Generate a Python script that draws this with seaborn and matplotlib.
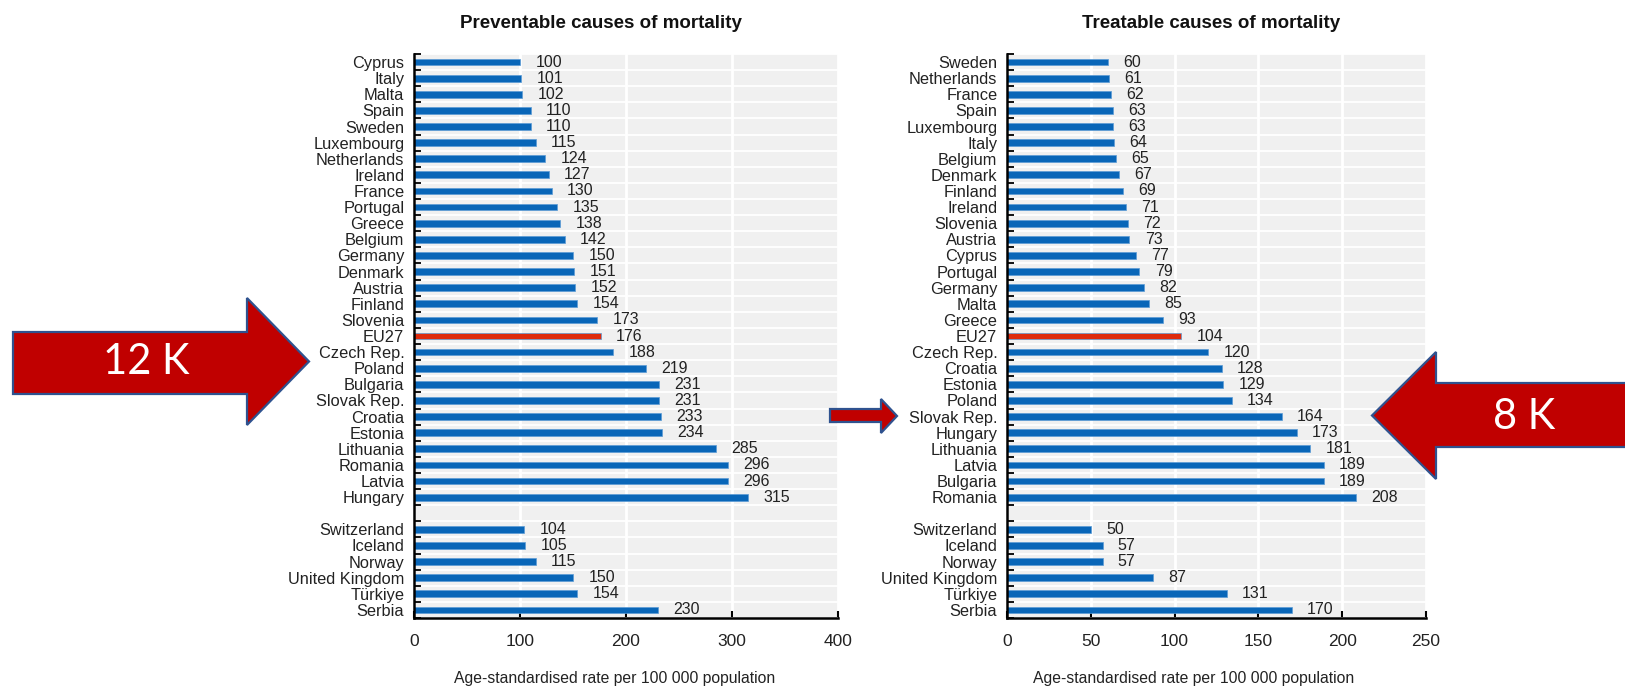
import numpy as np
import pandas as pd
import matplotlib
matplotlib.use("Agg")
import matplotlib.pyplot as plt
import seaborn as sns
from matplotlib.patches import Polygon
from matplotlib.ticker import FixedLocator

# preventable causes
prev_eu = ["Cyprus", "Italy", "Malta", "Spain", "Sweden", "Luxembourg", "Netherlands",
           "Ireland", "France", "Portugal", "Greece", "Belgium", "Germany", "Denmark",
           "Austria", "Finland", "Slovenia", "EU27", "Czech Rep.", "Poland", "Bulgaria",
           "Slovak Rep.", "Croatia", "Estonia", "Lithuania", "Romania", "Latvia", "Hungary"]
prev_eu_val = [100, 101, 102, 110, 110, 115, 124, 127, 130, 135, 138, 142, 150, 151,
               152, 154, 173, 176, 188, 219, 231, 231, 233, 234, 285, 296, 296, 315]
prev_other = ["Switzerland", "Iceland", "Norway", "United Kingdom", "Türkiye", "Serbia"]
prev_other_val = [104, 105, 115, 150, 154, 230]

# treatable causes
treat_eu = ["Sweden", "Netherlands", "France", "Spain", "Luxembourg", "Italy", "Belgium",
            "Denmark", "Finland", "Ireland", "Slovenia", "Austria", "Cyprus", "Portugal",
            "Germany", "Malta", "Greece", "EU27", "Czech Rep.", "Croatia", "Estonia",
            "Poland", "Slovak Rep.", "Hungary", "Lithuania", "Latvia", "Bulgaria", "Romania"]
treat_eu_val = [60, 61, 62, 63, 63, 64, 65, 67, 69, 71, 72, 73, 77, 79, 82, 85, 93, 104,
                120, 128, 129, 134, 164, 173, 181, 189, 189, 208]
treat_other = ["Switzerland", "Iceland", "Norway", "United Kingdom", "Türkiye", "Serbia"]
treat_other_val = [50, 57, 57, 87, 131, 170]

titles = ["Preventable causes of mortality", "Treatable causes of mortality"]
xlabel = "Age-standardised rate per 100 000 population"

BLUE = "#0966B8"
RED = "#DE2A0C"
BG = "#F0F0F0"
TXT = "#222222"

sns.set_style("ticks")
plt.rcParams["font.family"] = ["Liberation Sans", "DejaVu Sans"]

W, H = 1625, 687
fig = plt.figure(figsize=(W / 100, H / 100), dpi=100)


def px_axes(x0, x1, y0, y1):
    return fig.add_axes([x0 / W, 1 - y1 / H, (x1 - x0) / W, (y1 - y0) / H])


def panel(ax, eu, eu_val, other, other_val, xmax, step, title, title_x, xl_x):
    df = pd.DataFrame({"country": eu + other, "value": eu_val + other_val})
    df["group"] = np.where(df["country"] == "EU27", "eu", "c")
    order = eu + [" "] + other
    sns.barplot(data=df, x="value", y="country", order=order, hue="group",
                palette={"eu": RED, "c": BLUE}, dodge=False, width=0.42,
                saturation=1, legend=False, edgecolor="#5B9BD5", linewidth=0.5, ax=ax)
    for c in ax.containers:
        ax.bar_label(c, fmt="%d", padding=11, fontsize=11.5, color=TXT)
    n = len(order)
    ax.set_facecolor(BG)
    ax.set_xlim(0, xmax)
    ax.set_ylim(n - 0.5, -0.5)
    ax.set_xticks(np.arange(0, xmax + 1, step))
    ax.yaxis.set_minor_locator(FixedLocator(np.arange(-0.5, n, 1)))
    ax.set_axisbelow(True)
    ax.grid(axis="x", which="major", color="white", lw=2)
    ax.grid(axis="y", which="minor", color="white", lw=1.3)
    ax.grid(axis="y", which="major", visible=False)
    for s in ["top", "right"]:
        ax.spines[s].set_visible(False)
    for s in ["left", "bottom"]:
        ax.spines[s].set_linewidth(1.8)
        ax.spines[s].set_color("black")
    ax.tick_params(axis="y", which="major", length=0, pad=7, labelsize=11.8,
                   labelcolor=TXT)
    ax.tick_params(axis="y", which="minor", direction="in", length=5, width=1.3,
                   color="black")
    ax.tick_params(axis="x", which="major", direction="in", length=5, width=1.5,
                   color="black", pad=11.5, labelsize=12.5, labelcolor=TXT)
    ax.set_ylabel("")
    ax.set_xlabel(xlabel, fontsize=11.3, color=TXT, va="top")
    ax.xaxis.set_label_coords(xl_x, -0.094)
    fig.text(title_x / W, 1 - 23 / H, title, ha="center", va="center",
             fontsize=13.5, fontweight="bold", color="#111111")


ax1 = px_axes(414, 838, 54, 618)
ax2 = px_axes(1007, 1426, 54, 618)
panel(ax1, prev_eu, prev_eu_val, prev_other, prev_other_val, 400, 100,
      titles[0], 601, 0.474)
panel(ax2, treat_eu, treat_eu_val, treat_other, treat_other_val, 250, 50,
      titles[1], 1211, 0.446)


def arrow(x0, by0, by1, xh, hy0, hy1, xt, yc):
    pts = [(x0, by0), (xh, by0), (xh, hy0), (xt, yc), (xh, hy1), (xh, by1), (x0, by1)]
    pts = [(x / W, 1 - y / H) for x, y in pts]
    fig.patches.append(Polygon(pts, closed=True, transform=fig.transFigure,
                               facecolor="#C00000", edgecolor="#2F528F", lw=1.6,
                               joinstyle="miter"))


arrow(13, 332, 394, 247, 298, 425, 309, 361.5)
arrow(830, 409, 422, 881, 399, 433, 897, 416)
arrow(1640, 383, 447, 1436, 352, 479, 1372, 415.5)

fig.text(146 / W, 1 - 362 / H, "12 K", ha="center", va="center", color="white",
         fontsize=30, family="Lato")
fig.text(1524 / W, 1 - 417 / H, "8 K", ha="center", va="center", color="white",
         fontsize=30, family="Lato")

fig.savefig("out.png", dpi=100)
